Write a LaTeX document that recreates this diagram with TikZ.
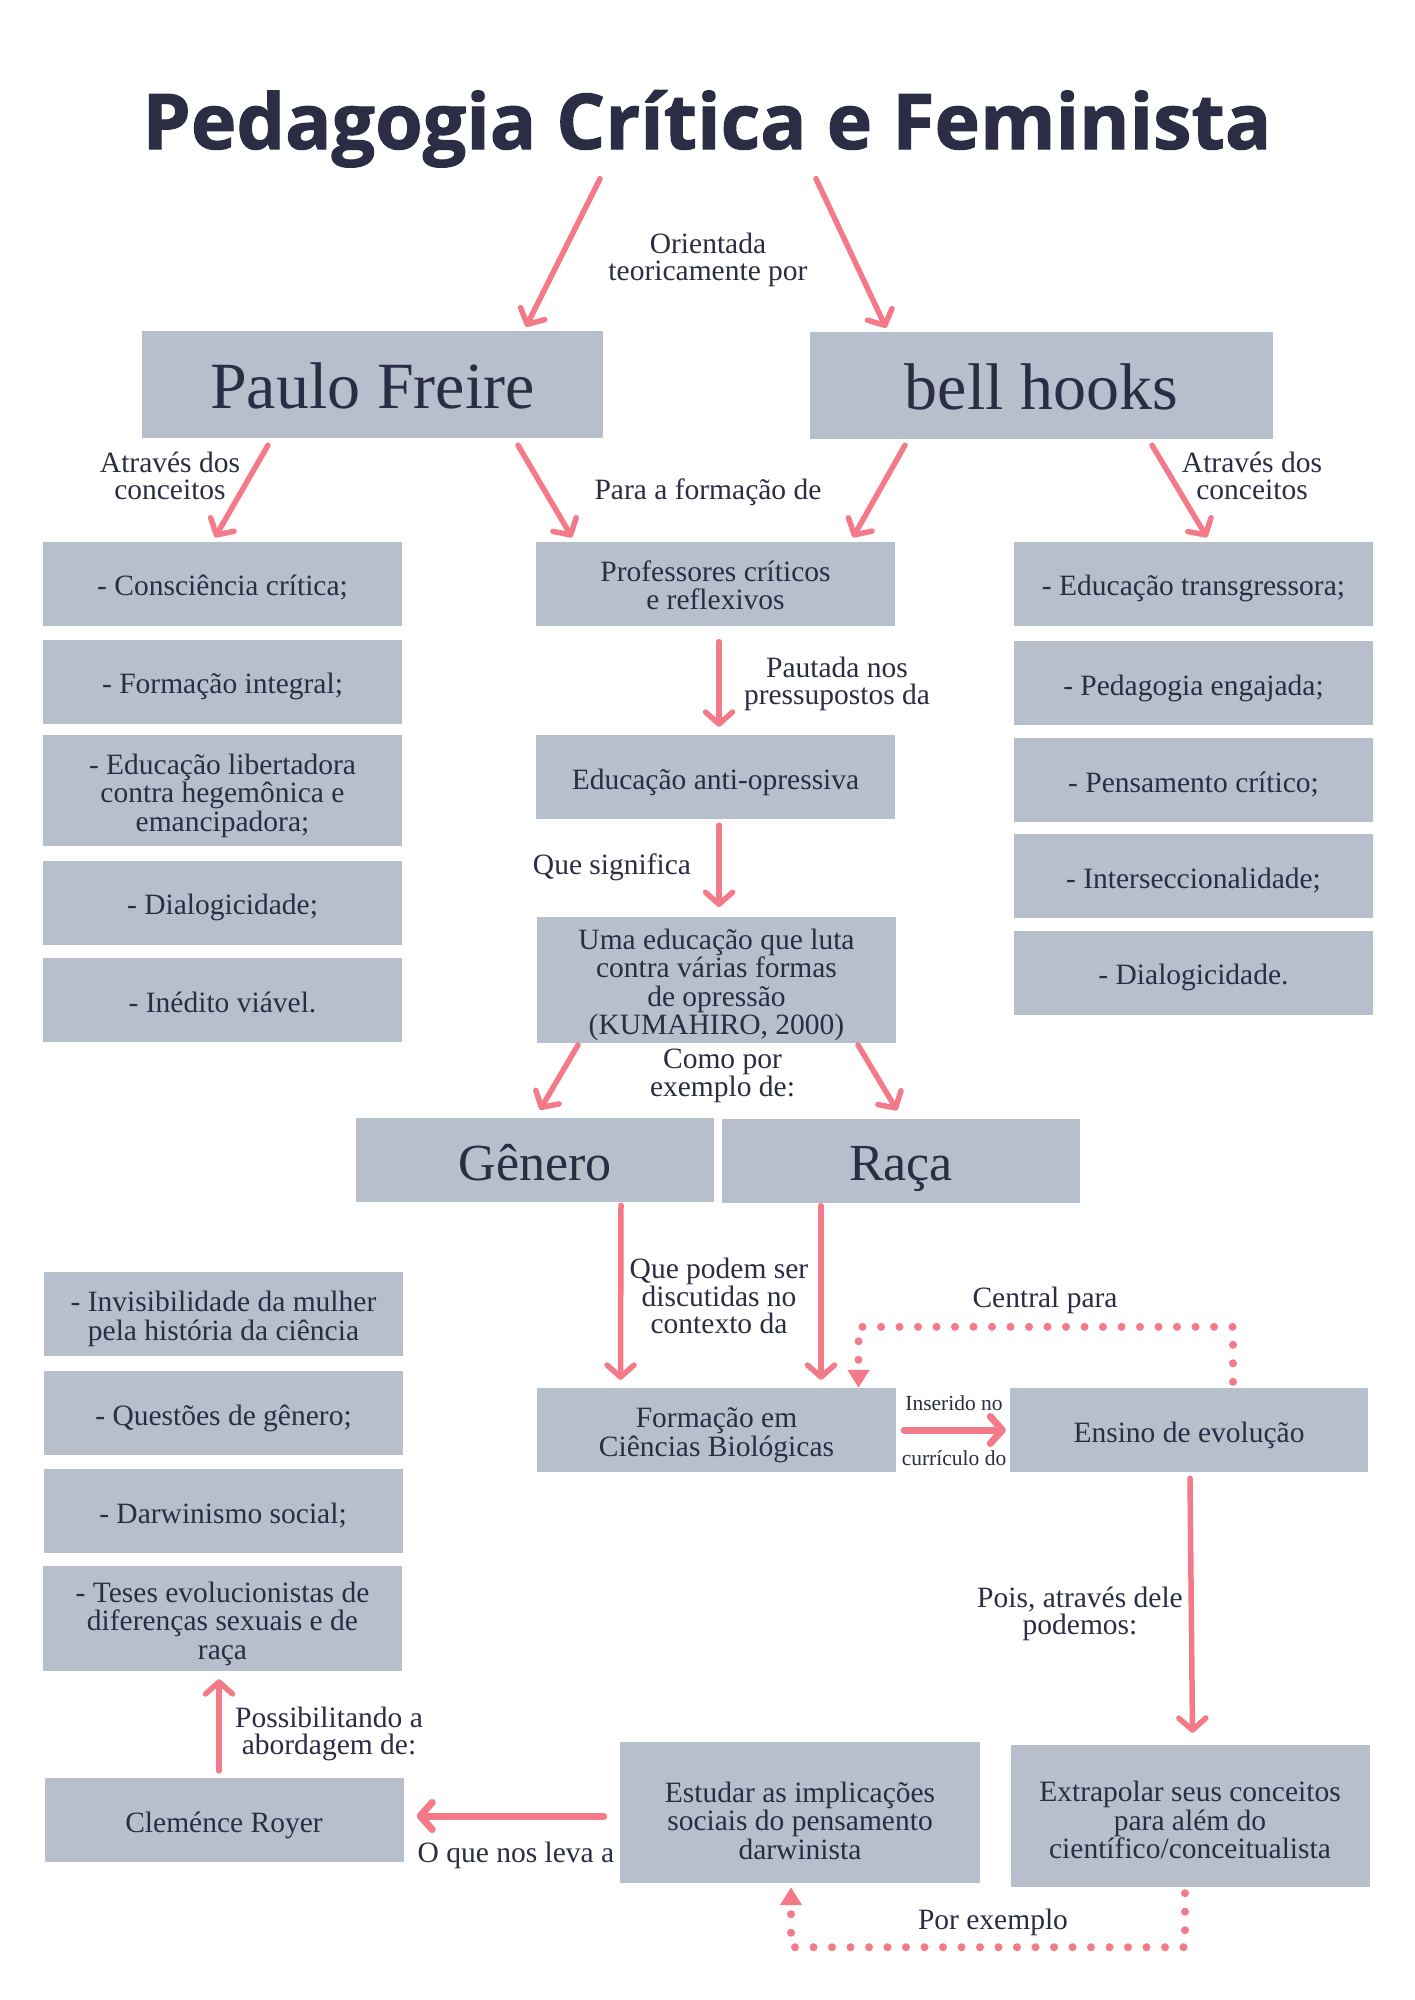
\documentclass[tikz,border=0pt]{standalone}
\usepackage{fontspec}
\setmainfont{Liberation Serif}
\newfontfamily\titlefont[BoldFeatures={FakeBold=1.3}]{Open Sans}
\usetikzlibrary{arrows.meta}

\definecolor{ink}{HTML}{2A2D43}
\definecolor{boxgray}{HTML}{B7BECC}
\definecolor{rose}{HTML}{F47A89}

\begin{document}
\begin{tikzpicture}[x=1pt,y=-1pt,
  box/.style={fill=boxgray,text=ink,minimum width=359pt,minimum height=84pt,inner sep=0pt,align=center,
    font=\fontsize{29.5}{28.5}\selectfont,text height=32pt,text depth=8pt},
  two/.style={text height=60.5pt},
  three/.style={text height=89pt},
  four/.style={text height=117.5pt},
  bigbox/.style={box,font=\fontsize{66}{70}\selectfont,text height=60pt,text depth=13pt},
  midbox/.style={box,minimum width=358pt,font=\fontsize{52}{56}\selectfont,text height=52pt,text depth=12pt},
  lbl/.style={text=ink,align=center,inner sep=0pt,font=\fontsize{29.5}{27.5}\selectfont},
  tinylbl/.style={lbl,font=\fontsize{21.5}{22}\selectfont},
  arr/.style={draw=rose,line width=5.5pt,line cap=round,-{Straight Barb[length=12pt,width=27pt,round]}},
  fatarr/.style={arr,line width=7pt},
  dotarr/.style={draw=rose,line width=8pt,line cap=round,dash pattern=on 0pt off 18.5pt,-{Triangle[length=18pt,width=21pt]}}
]
  \useasboundingbox[fill=white] (0,0) rectangle (1414,2000);
  % Title
  \node[anchor=base,inner sep=0pt,text=ink,font=\titlefont\bfseries\fontsize{77}{77}\selectfont] (title) at (707,149) {Pedagogia Crítica e Feminista};
  % Authors
  \node[bigbox,minimum width=461pt,minimum height=107pt] (pf) at (372.5,384.5) {Paulo Freire};
  \node[bigbox,minimum width=463pt,minimum height=107pt] (bh) at (1041.5,385.5) {bell hooks};
  % Freire concepts
  \node[box] (lc1) at (222.5,583.5) {- Consciência crítica;};
  \node[box] (lc2) at (222.5,681.5) {- Formação integral;};
  \node[box,three,minimum height=111pt] (lc3) at (222.5,790.5) {- Educação libertadora\\contra hegemônica e\\emancipadora;};
  \node[box] (lc4) at (222.5,902.5) {- Dialogicidade;};
  \node[box] (lc5) at (222.5,1000) {- Inédito viável.};
  % hooks concepts
  \node[box] (rc1) at (1193.5,583.5) {- Educação transgressora;};
  \node[box] (rc2) at (1193.5,683) {- Pedagogia engajada;};
  \node[box] (rc3) at (1193.5,780) {- Pensamento crítico;};
  \node[box] (rc4) at (1193.5,876) {- Interseccionalidade;};
  \node[box] (rc5) at (1193.5,972.5) {- Dialogicidade.};
  % Middle column
  \node[box,two] (prof) at (715.5,583.5) {Professores críticos\\e reflexivos};
  \node[box] (anti) at (715.5,777) {Educação anti-opressiva};
  \node[box,four,minimum height=124pt] (uma) at (716.5,980) {Uma educação que luta\\contra várias formas\\de opressão\\(KUMAHIRO, 2000)};
  \node[midbox] (gen) at (535,1160) {Gênero};
  \node[midbox] (raca) at (901,1160.5) {Raça};
  \node[box,two] (form) at (716.5,1430) {Formação em\\Ciências Biológicas};
  \node[box,minimum width=358pt] (ens) at (1189,1430) {Ensino de evolução};
  % Lower left column
  \node[box,two] (lv1) at (223.5,1314) {- Invisibilidade da mulher\\pela história da ciência};
  \node[box] (lv2) at (223.5,1413) {- Questões de gênero;};
  \node[box] (lv3) at (223,1511) {- Darwinismo social;};
  \node[box,three,minimum height=105pt] (lv4) at (222.5,1618.5) {- Teses evolucionistas de\\diferenças sexuais e de\\raça};
  \node[box] (clem) at (224,1820) {Cleménce Royer};
  % Bottom row
  \node[box,three,text height=101pt,minimum width=360pt,minimum height=141pt] (est) at (800,1812.5) {Estudar as implicações\\sociais do pensamento\\darwinista};
  \node[box,three,text height=93pt,minimum height=142pt] (extra) at (1190,1816) {Extrapolar seus conceitos\\para além do\\científico/conceitualista};
  % Connector labels
  \node[lbl] (ori) at (708,260) {Orientada\\teoricamente por};
  \node[lbl] (atl) at (170,476) {Através dos\\conceitos};
  \node[lbl] (para) at (708,492) {Para a formação de};
  \node[lbl] (atr) at (1252,476) {Através dos\\conceitos};
  \node[lbl] (paut) at (837,684) {Pautada nos\\pressupostos da};
  \node[lbl] (sig) at (612,867) {Que significa};
  \node[lbl] (como) at (722.5,1076) {Como por\\exemplo de:};
  \node[lbl] (pod) at (719,1296) {Que podem ser\\discutidas no\\contexto da};
  \node[lbl] (cen) at (1045,1300) {Central para};
  \node[tinylbl] (ins) at (954,1403) {Inserido no};
  \node[tinylbl] (cur) at (954,1458) {currículo do};
  \node[lbl] (pois) at (1080,1614) {Pois, através dele\\podemos:};
  \node[lbl] (poss) at (329,1734) {Possibilitando a\\abordagem de:};
  \node[lbl] (leva) at (516,1855) {O que nos leva a};
  \node[lbl] (porex) at (993,1922) {Por exemplo};
  % Arrows
  \draw[arr] ([xshift=-107pt,yshift=-11pt]title.south) -- ([xshift=153.5pt,yshift=4pt]pf.north);
  \draw[arr] ([xshift=109pt,yshift=-11pt]title.south) -- ([xshift=-155.5pt,yshift=4pt]bh.north);
  \draw[arr] ([xshift=-104.5pt,yshift=-7pt]pf.south) -- ([xshift=-7.5pt,yshift=4pt]lc1.north);
  \draw[arr] ([xshift=145.5pt,yshift=-7pt]pf.south) -- ([xshift=-143.5pt,yshift=4pt]prof.north);
  \draw[arr] ([xshift=-136.5pt,yshift=-6pt]bh.south) -- ([xshift=137.5pt,yshift=4pt]prof.north);
  \draw[arr] ([xshift=110.5pt,yshift=-6pt]bh.south) -- ([xshift=13.5pt,yshift=4pt]rc1.north);
  \draw[arr] ([xshift=3.5pt,yshift=-16pt]prof.south) -- ([xshift=3.5pt,yshift=8pt]anti.north);
  \draw[arr] ([xshift=3.5pt,yshift=-6pt]anti.south) -- ([xshift=2.5pt,yshift=10pt]uma.north);
  \draw[arr] ([xshift=-138.5pt,yshift=-2pt]uma.south) -- ([xshift=5pt,yshift=8pt]gen.north);
  \draw[arr] ([xshift=141.5pt,yshift=-2pt]uma.south) -- ([xshift=-4pt,yshift=8pt]raca.north);
  \draw[arr] ([xshift=86pt,yshift=-3pt]gen.south) -- ([xshift=-96pt,yshift=8pt]form.north);
  \draw[arr] ([xshift=-80pt,yshift=-3pt]raca.south) -- ([xshift=104.5pt,yshift=8pt]form.north);
  \draw[fatarr] ([xshift=8pt]form.east) -- ([xshift=-4pt]ens.west);
  \draw[arr] ([xshift=1pt,yshift=-6pt]ens.south) -- ([xshift=2.5pt,yshift=12pt]extra.north);
  \draw[fatarr] ([xshift=-16pt,yshift=-3.5pt]est.west) -- ([xshift=13pt,yshift=4pt]clem.east);
  \draw[arr] ([xshift=-5pt,yshift=7pt]clem.north) -- ([xshift=-3.5pt,yshift=-8pt]lv4.south);
  % Dotted loops
  \draw[dotarr] ([xshift=44pt,yshift=6pt]ens.north) -- ++(0,-55) -| ([xshift=142pt]form.north);
  \draw[dotarr] ([xshift=-5pt,yshift=-6pt]extra.south) -- ++(0,54) -| ([xshift=-9pt,yshift=-4pt]est.south);
\end{tikzpicture}
\end{document}
